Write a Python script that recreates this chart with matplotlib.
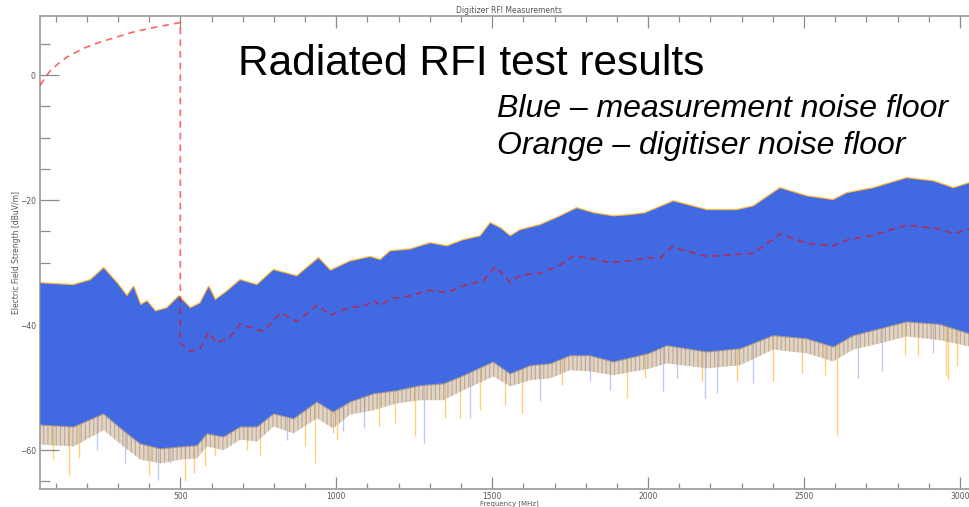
"""Digitizer RFI measurements - radiated RFI test results."""

import matplotlib
matplotlib.use("Agg")
import matplotlib.pyplot as plt
from matplotlib.ticker import MultipleLocator

# upper edge of the measured band (MHz, dBuV/m)
hi_freq = [51, 157, 212, 254, 297, 329, 350, 372, 393, 420, 457, 495, 532, 564, 591, 612,
           650, 692, 746, 799, 874, 943, 981, 1045, 1109, 1141, 1173, 1237, 1301, 1355,
           1408, 1462, 1494, 1526, 1558, 1590, 1654, 1718, 1771, 1825, 1889, 1942, 1990,
           2081, 2188, 2284, 2338, 2423, 2509, 2594, 2637, 2722, 2829, 2915, 2979, 3030]
hi_db = [-33.3, -33.6, -32.8, -30.9, -33.3, -35.4, -33.9, -36.8, -36.2, -37.8, -37.3, -35.4,
         -37.3, -36.5, -33.9, -36.0, -34.6, -32.8, -33.6, -31.2, -32.2, -29.3, -31.3, -29.8,
         -29.1, -29.6, -28.2, -27.9, -26.9, -27.4, -26.4, -25.8, -23.7, -24.5, -25.8, -24.8,
         -24.0, -22.6, -21.3, -22.1, -22.6, -22.4, -22.1, -20.2, -21.6, -21.6, -21.0, -18.1,
         -19.4, -20.0, -18.9, -18.1, -16.5, -17.0, -18.1, -17.3]

# lower edge of the solid band, and of the spiky fringe below it
lo_freq = [51, 158, 254, 318, 372, 436, 500, 553, 585, 639, 692, 746, 799, 863, 938, 990,
           1045, 1120, 1194, 1269, 1344, 1408, 1504, 1558, 1622, 1686, 1750, 1814, 1889,
           2000, 2060, 2188, 2295, 2401, 2509, 2594, 2658, 2744, 2829, 2936, 3030]
lo_db = [-55.9, -56.2, -54.1, -56.8, -58.9, -59.7, -59.4, -59.2, -57.3, -57.8, -56.2, -56.2,
         -54.1, -54.9, -52.2, -53.8, -52.2, -50.9, -50.4, -49.6, -49.3, -48.0, -45.8, -47.7,
         -46.4, -46.1, -44.8, -44.8, -45.8, -44.5, -43.2, -44.2, -43.7, -41.6, -42.1, -43.4,
         -41.6, -40.5, -39.4, -39.8, -41.3]
fringe_db = [-59.1, -59.4, -56.8, -59.4, -61.5, -62.1, -61.5, -61.3, -59.4, -60.0, -58.3,
             -58.6, -56.2, -57.3, -54.9, -56.5, -54.3, -53.6, -52.5, -52.0, -52.0, -50.4,
             -48.2, -49.8, -48.8, -48.5, -47.2, -47.4, -48.0, -47.0, -46.1, -46.9, -46.4,
             -43.9, -44.5, -45.8, -43.9, -42.9, -41.8, -42.4, -43.4]

# deepest single dips (digitiser = orange, measurement = blue)
orange_spk_f = [92, 142, 174, 398, 516, 543, 580, 612, 714, 756, 901, 933, 1002, 991, 1136,
                1189, 1253, 1349, 1397, 1462, 1542, 1595, 1723, 1932, 1990, 2172, 2284, 2401,
                2493, 2567, 2605, 2824, 2866, 2955, 2963, 2990]
orange_spk_db = [-61.6, -64.2, -61.3, -64.2, -65.0, -63.7, -62.6, -61.0, -60.0, -60.8, -59.4,
                 -62.1, -58.3, -57.3, -56.2, -55.7, -57.8, -54.9, -54.9, -53.6, -52.8, -54.1,
                 -49.6, -51.7, -48.5, -49.0, -49.0, -49.0, -47.7, -48.0, -57.5, -44.8, -45.0,
                 -48.0, -48.7, -46.6]
blue_spk_f = [233, 324, 430, 468, 842, 1023, 1088, 1282, 1429, 1654, 1814, 1878, 2049, 2092,
              2183, 2222, 2338, 2672, 2749, 2915]
blue_spk_db = [-60.0, -62.1, -64.8, -62.1, -58.3, -57.0, -56.5, -58.9, -54.9, -52.2, -49.0,
               -50.4, -50.6, -48.5, -51.7, -50.9, -49.3, -48.5, -47.4, -44.5]

# red dashed trace
med_freq = [51, 65, 83, 110, 137, 190, 244, 297, 350, 404, 457, 500, 500, 532, 564, 591, 618,
            660, 692, 735, 767, 821, 874, 938, 981, 1045, 1088, 1120, 1141, 1173, 1237, 1301,
            1355, 1408, 1472, 1510, 1558, 1590, 1654, 1718, 1761, 1825, 1878, 1942, 2006,
            2038, 2076, 2188, 2338, 2423, 2509, 2594, 2637, 2722, 2829, 2936, 2979, 3030]
med_db = [-1.6, -0.5, 0.7, 1.9, 2.9, 4.3, 5.3, 6.1, 6.9, 7.5, 8.0, 8.4, -42.9, -44.2, -43.7,
          -41.1, -42.9, -41.8, -39.8, -40.5, -41.0, -38.0, -39.4, -36.8, -38.4, -37.1, -37.0,
          -36.0, -36.9, -35.8, -35.3, -34.4, -34.8, -33.7, -32.9, -30.6, -33.2, -32.0, -31.7,
          -30.4, -28.9, -29.4, -30.0, -29.7, -29.2, -29.3, -27.5, -29.0, -28.5, -25.4, -26.9,
          -27.3, -26.4, -25.6, -24.0, -24.6, -25.4, -24.6]

BLUE = "#4169e1"
ORANGE = "#ffa500"
GREY = "#8c8c8c"
plt.rcParams["hatch.linewidth"] = 0.9

fig = plt.figure(figsize=(9.69, 5.07), dpi=100)
ax = fig.add_axes([40 / 969, 18 / 507, 938 / 969, 473.3 / 507])

# spikes under the band
ax.vlines(orange_spk_f, orange_spk_db, -38, color=ORANGE, alpha=0.5, lw=1.0, zorder=1)
ax.vlines(blue_spk_f, blue_spk_db, -38, color=BLUE, alpha=0.35, lw=1.0, zorder=1)

# streaky fringe below the solid band
fx = lo_freq + lo_freq[::-1]
fy = lo_db + fringe_db[::-1]
ax.fill(fx, fy, color="#f5c477", alpha=0.45, lw=0, zorder=1.5)
ax.fill(fx, fy, facecolor="none", edgecolor="#b09070", hatch="||||", lw=0, alpha=0.55,
        zorder=1.6)
ax.fill(fx, fy, color=BLUE, alpha=0.12, lw=0, zorder=1.7)

# orange rim along the top of the band
ax.plot(hi_freq, hi_db, color=ORANGE, lw=1.8, alpha=0.75, zorder=2)
ax.plot(lo_freq, lo_db, color="#8a7a70", lw=1.6, alpha=0.6, zorder=2)

# main band
ax.fill(hi_freq + lo_freq[::-1], hi_db + lo_db[::-1], color=BLUE, lw=0, zorder=3)

ax.plot(med_freq, med_db, color="red", alpha=0.6, lw=1.2, dashes=(4, 3), zorder=4)

ax.set_xlim(50, 3058)
ax.set_ylim(-66.2, 9.5)
ax.xaxis.set_major_locator(MultipleLocator(500))
ax.xaxis.set_minor_locator(MultipleLocator(100))
ax.yaxis.set_major_locator(MultipleLocator(20))
ax.yaxis.set_minor_locator(MultipleLocator(5))
ax.tick_params(axis="x", which="both", direction="in", top=True, bottom=True,
               colors=GREY, labelcolor="#555555", labelsize=5.5, pad=2, width=0.9)
ax.tick_params(axis="x", which="major", length=8.5)
ax.tick_params(axis="x", which="minor", length=4.5)
ax.tick_params(axis="y", which="both", direction="in", left=True, right=False,
               colors=GREY, labelcolor="#555555", labelsize=5.5, pad=3, width=0.9)
ax.tick_params(axis="y", which="major", length=13.5)
ax.tick_params(axis="y", which="minor", length=7)
for s in ("left", "bottom", "top"):
    ax.spines[s].set_color("#a0a0a0")
    ax.spines[s].set_linewidth(1.3)
ax.spines["right"].set_visible(False)

ax.set_xlabel("Frequency [MHz]", fontsize=5, color="#555555", labelpad=-0.5)
ax.set_ylabel("Electric Field Strength [dBuV/m]", fontsize=5.5, color="#555555", labelpad=-1)
ax.set_title("Digitizer RFI Measurements", fontsize=5.5, color="#555555", pad=2)

fig.text(238 / 969, 1 - 75 / 507, "Radiated RFI test results", fontsize=30.5,
         family="Liberation Sans", va="baseline", ha="left")
fig.text(497 / 969, 1 - 117 / 507, "Blue \u2013 measurement noise floor", fontsize=23,
         family="Liberation Sans", style="italic", va="baseline", ha="left")
fig.text(497 / 969, 1 - 154 / 507, "Orange \u2013 digitiser noise floor", fontsize=23,
         family="Liberation Sans", style="italic", va="baseline", ha="left")

fig.savefig("out.png", dpi=100)
